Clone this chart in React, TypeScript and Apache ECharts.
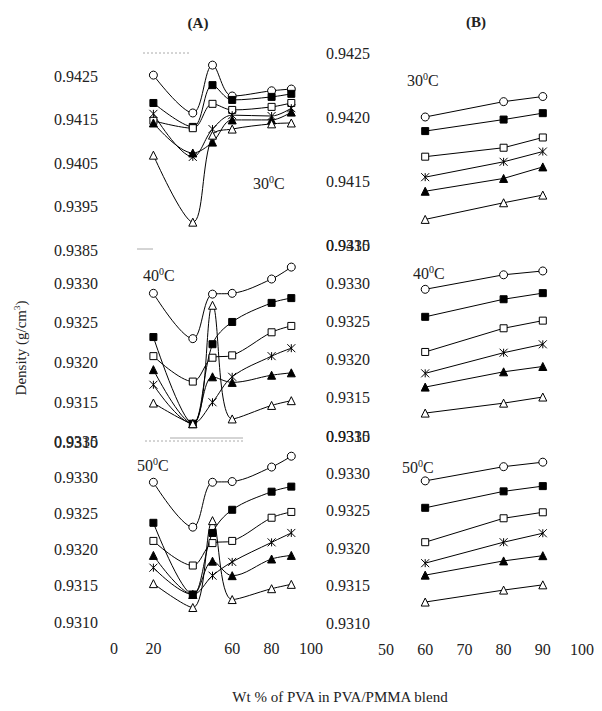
import React, { useEffect, useRef } from "react";
import * as echarts from "echarts";

// ---------- data ----------
const markerKinds = ["open circle", "filled square", "open square", "star", "filled triangle", "open triangle"];

const xLeft = [20, 40, 50, 60, 80, 90]; // Wt % PVA, panel (A)
const xRight = [60, 80, 90]; // Wt % PVA, panel (B)

const xTicksLeft = [0, 20, 40, 60, 80, 100];
const xTicksRight = [50, 60, 70, 80, 90, 100];
const hiddenLeftXLabels = [40];

const temps = ["30", "40", "50"];

// (A) 30 °C – rows follow markerKinds
const densA30 = [
  [0.94252, 0.94165, 0.94275, 0.94204, 0.94216, 0.9422],
  [0.94188, 0.94133, 0.94229, 0.94195, 0.94202, 0.94209],
  [0.94147, 0.9413, 0.94186, 0.94172, 0.94179, 0.94188],
  [0.94163, 0.94064, 0.94128, 0.9416, 0.94158, 0.94176],
  [0.94142, 0.94073, 0.94098, 0.94149, 0.94149, 0.94167],
  [0.94068, 0.93914, 0.94114, 0.94128, 0.9414, 0.94142],
];
// (A) 40 °C
const densA40 = [
  [0.93287, 0.9323, 0.93286, 0.93287, 0.93305, 0.9332],
  [0.93232, 0.93123, 0.93223, 0.93251, 0.93275, 0.93281],
  [0.93208, 0.93176, 0.93206, 0.93209, 0.93238, 0.93246],
  [0.93172, 0.93123, 0.9315, 0.93182, 0.93208, 0.93218],
  [0.93191, 0.93123, 0.93182, 0.93175, 0.93184, 0.93187],
  [0.93149, 0.93123, 0.93272, 0.93129, 0.93146, 0.93152],
];
// (A) 50 °C
const densA50 = [
  [0.93293, 0.93231, 0.93293, 0.93294, 0.93314, 0.93329],
  [0.93237, 0.93138, 0.93223, 0.93255, 0.9328, 0.93287],
  [0.93212, 0.93178, 0.93209, 0.93212, 0.93244, 0.93252],
  [0.93175, 0.93138, 0.93164, 0.93183, 0.9321, 0.93223],
  [0.93192, 0.93138, 0.93184, 0.93164, 0.93187, 0.93192],
  [0.93153, 0.9312, 0.9324, 0.93131, 0.93146, 0.93152],
];
// (B) 30 °C
const densB30 = [
  [0.942, 0.94212, 0.94216],
  [0.94189, 0.94198, 0.94203],
  [0.94169, 0.94176, 0.94184],
  [0.94153, 0.94165, 0.94173],
  [0.94142, 0.94152, 0.94161],
  [0.9412, 0.94133, 0.94139],
];
// (B) 40 °C
const densB40 = [
  [0.93292, 0.93311, 0.93316],
  [0.93256, 0.93279, 0.93287],
  [0.9321, 0.93241, 0.93251],
  [0.93182, 0.93209, 0.9322],
  [0.93164, 0.93184, 0.93191],
  [0.9313, 0.93143, 0.93151],
];
// (B) 50 °C
const densB50 = [
  [0.9329, 0.93309, 0.93315],
  [0.93254, 0.93276, 0.93283],
  [0.93208, 0.9324, 0.93248],
  [0.9318, 0.93208, 0.9322],
  [0.93164, 0.93183, 0.9319],
  [0.93128, 0.93144, 0.93151],
];

// y-axis ranges [min, max, interval] per panel
const yRangeA30 = [0.9385, 0.9425, 0.001];
const yRangeA40 = [0.931, 0.933, 0.0005];
const yRangeA50 = [0.931, 0.9335, 0.0005];
const yRangeB30 = [0.941, 0.9425, 0.0005];
const yRangeB40 = [0.931, 0.9335, 0.0005];
const yRangeB50 = [0.931, 0.9335, 0.0005];

// ---------- styles ----------
const FONT = "'Liberation Serif','Times New Roman',serif";
const INK = "#222";
const STAR = "path://M0,0L10,10M10,0L0,10M5,0L5,10";
const markerStyles = [
  { symbol: "circle", fill: "#fff", size: 8 },
  { symbol: "rect", fill: "#000", size: 7 },
  { symbol: "rect", fill: "#fff", size: 7 },
  { symbol: STAR, fill: "#000", size: 8 },
  { symbol: "triangle", fill: "#000", size: 8 },
  { symbol: "triangle", fill: "#fff", size: 8 },
];

const gridBoxes = [
  { left: 114, top: 76, width: 197, height: 174 },
  { left: 114, top: 283, width: 197, height: 159 },
  { left: 114, top: 441, width: 197, height: 181 },
  { left: 386, top: 53, width: 196, height: 192 },
  { left: 386, top: 245, width: 196, height: 191 },
  { left: 386, top: 436, width: 196, height: 187 },
];

const panels = [
  { rows: densA30, xs: xLeft, yr: yRangeA30, smooth: 0.35 },
  { rows: densA40, xs: xLeft, yr: yRangeA40, smooth: 0.35 },
  { rows: densA50, xs: xLeft, yr: yRangeA50, smooth: 0.35 },
  { rows: densB30, xs: xRight, yr: yRangeB30, smooth: false },
  { rows: densB40, xs: xRight, yr: yRangeB40, smooth: false },
  { rows: densB50, xs: xRight, yr: yRangeB50, smooth: false },
];

function tempLabel(t: string, x: number, y: number) {
  return {
    type: "text",
    x,
    y,
    style: {
      text: `${t}{s|0}C`,
      fill: INK,
      fontFamily: FONT,
      fontSize: 16,
      lineHeight: 18,
      textVerticalAlign: "middle",
      rich: {
        s: { fontSize: 10, fontFamily: FONT, fill: INK, verticalAlign: "top", lineHeight: 18 },
      },
    },
  };
}

function artifact(x1: number, y1: number, x2: number, y2: number, dash: boolean) {
  return {
    type: "line",
    shape: { x1, y1, x2, y2 },
    style: { stroke: "#aaa", lineWidth: 1, lineDash: dash ? [2, 2] : null },
  };
}

function buildOption() {
  const grid = gridBoxes.map((g) => ({ ...g }));
  const xAxis = gridBoxes.map((_, i) => {
    const left = i < 3;
    const bottom = i === 2 || i === 5;
    const ticks = left ? xTicksLeft : xTicksRight;
    return {
      type: "value",
      gridIndex: i,
      min: ticks[0],
      max: ticks[ticks.length - 1],
      interval: ticks[1] - ticks[0],
      show: bottom,
      axisLine: { show: false },
      axisTick: { show: false },
      splitLine: { show: false },
      axisLabel: {
        show: bottom,
        margin: 18,
        color: INK,
        fontFamily: FONT,
        fontSize: 16,
        formatter: (v: number) => (left && hiddenLeftXLabels.includes(v) ? "" : String(v)),
      },
    };
  });
  const yAxis = panels.map((p, i) => ({
    type: "value",
    gridIndex: i,
    min: p.yr[0],
    max: p.yr[1],
    interval: p.yr[2],
    axisLine: { show: false },
    axisTick: { show: false },
    splitLine: { show: false },
    axisLabel: {
      margin: 16,
      color: INK,
      fontFamily: FONT,
      fontSize: 16,
      formatter: (v: number) => v.toFixed(4),
    },
  }));
  const series: any[] = [];
  panels.forEach((p, i) => {
    p.rows.forEach((row, k) => {
      const m = markerStyles[k];
      series.push({
        type: "line",
        name: `${markerKinds[k]} ${i}`,
        xAxisIndex: i,
        yAxisIndex: i,
        data: row.map((v, j) => [p.xs[j], v]),
        smooth: p.smooth,
        clip: false,
        symbol: m.symbol,
        symbolSize: m.size,
        showSymbol: true,
        lineStyle: { color: "#000", width: 1 },
        itemStyle: { color: m.fill, borderColor: "#000", borderWidth: 1 },
        z: 3,
      });
    });
  });

  const graphic: any[] = [
    { type: "text", x: 198, y: 23, style: { text: "(A)", fill: INK, fontFamily: FONT, fontSize: 15, fontWeight: "bold", textAlign: "center", textVerticalAlign: "middle" } },
    { type: "text", x: 476, y: 22, style: { text: "(B)", fill: INK, fontFamily: FONT, fontSize: 15, fontWeight: "bold", textAlign: "center", textVerticalAlign: "middle" } },
    tempLabel(temps[0], 253, 183),
    tempLabel(temps[0], 407, 80),
    tempLabel(temps[1], 143, 275),
    tempLabel(temps[1], 413, 273),
    tempLabel(temps[2], 137, 465),
    tempLabel(temps[2], 402, 467),
    {
      type: "text",
      x: 21,
      y: 348,
      rotation: Math.PI / 2,
      style: {
        text: "Density (g/cm{s|3})",
        fill: INK,
        fontFamily: FONT,
        fontSize: 15,
        lineHeight: 17,
        textAlign: "center",
        textVerticalAlign: "middle",
        rich: { s: { fontSize: 9, fontFamily: FONT, fill: INK, verticalAlign: "top", lineHeight: 17 } },
      },
    },
    { type: "text", x: 340, y: 697, style: { text: "Wt % of PVA in PVA/PMMA blend", fill: INK, fontFamily: FONT, fontSize: 15, textAlign: "center", textVerticalAlign: "middle" } },
    artifact(143, 53, 191, 53, true),
    artifact(137, 249, 153, 249, false),
    artifact(170, 438, 243, 438, false),
    artifact(145, 441, 243, 441, true),
  ];

  return {
    animation: false,
    backgroundColor: "#fff",
    grid,
    xAxis,
    yAxis,
    series,
    graphic,
  };
}

export default function App() {
  const ref = useRef<HTMLDivElement>(null);
  useEffect(() => {
    const chart = echarts.init(ref.current!, null, { renderer: "svg" });
    chart.setOption(buildOption() as any);
    return () => chart.dispose();
  }, []);
  return (
    <div
      ref={ref}
      style={{ position: "fixed", left: 0, top: 0, width: 602, height: 711, background: "#fff" }}
    />
  );
}
